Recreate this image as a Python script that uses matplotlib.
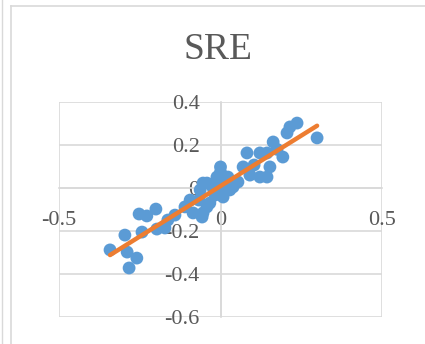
import numpy as np
import matplotlib
matplotlib.use("Agg")
import matplotlib.pyplot as plt
from matplotlib.lines import Line2D

# residuals: predicted vs observed
x_vals = [-0.342, -0.296, -0.289, -0.283, -0.259, -0.252, -0.228, -0.200, -0.243, -0.197,
          -0.172, -0.163, -0.141, -0.094, -0.085, -0.063, -0.057, -0.042, -0.054, -0.011,
          0.014, 0.000, 0.082, 0.144, 0.070, 0.122, -0.042, 0.000, 0.039, 0.008,
          -0.033, -0.054, 0.029, 0.237, 0.215, 0.206, 0.299, 0.163, 0.122, 0.193,
          0.175, 0.091, 0.144, 0.153, -0.017, 0.023, 0.054, 0.104, -0.067, -0.110,
          -0.023, 0.000]
y_vals = [-0.288, -0.219, -0.298, -0.372, -0.326, -0.121, -0.130, -0.098, -0.205, -0.191,
          -0.186, -0.149, -0.126, -0.056, -0.116, -0.009, -0.135, -0.088, 0.023, 0.051,
          -0.009, 0.098, 0.163, 0.163, 0.098, 0.051, 0.023, 0.023, 0.005, -0.042,
          -0.070, -0.116, -0.009, 0.302, 0.284, 0.256, 0.233, 0.214, 0.163, 0.144,
          0.180, 0.060, 0.051, 0.098, -0.033, 0.051, 0.028, 0.107, -0.056, -0.088,
          0.000, 0.074]

x_ticks = [-0.5, 0, 0.5]
y_ticks = [0.4, 0.2, 0, -0.2, -0.4, -0.6]

blue = "#5B9BD5"
orange = "#ED7D31"
grid_c = "#D9D9D9"
txt_c = "#595959"
serif = ["Liberation Serif", "DejaVu Serif"]

fig = plt.figure(figsize=(4.25, 3.44), dpi=100)
W, H = 425, 344

# chart frame
fig.add_artist(Line2D([11 / W, 11 / W], [0, 1 - 6 / H], color=grid_c, lw=1.2))
fig.add_artist(Line2D([11 / W, 1], [1 - 6 / H, 1 - 6 / H], color=grid_c, lw=1.2))
fig.add_artist(Line2D([2 / W, 2 / W], [0, 1], color=grid_c, lw=1.0))

ax = fig.add_axes([59 / W, 27 / H, 323 / W, 215 / H])
ax.set_xlim(-0.5, 0.5)
ax.set_ylim(-0.6, 0.4)
ax.set_xticks(x_ticks)
ax.set_yticks(y_ticks)
ax.set_xticklabels([f"{v:g}" for v in x_ticks])
ax.set_yticklabels([f"{v:g}" for v in y_ticks])
ax.grid(True, color=grid_c, lw=1.2)
ax.set_axisbelow(True)

for s in ["top", "right"]:
    ax.spines[s].set_visible(False)
for s in ["left", "bottom"]:
    ax.spines[s].set_position(("data", 0))
    ax.spines[s].set_color(grid_c)
    ax.spines[s].set_linewidth(1.2)

ax.tick_params(axis="x", length=0, pad=16.5, labelsize=16, labelcolor=txt_c)
ax.tick_params(axis="y", length=0, pad=15, labelsize=16, labelcolor=txt_c)
for lab in ax.get_xticklabels() + ax.get_yticklabels():
    lab.set_fontfamily(serif)

ax.scatter(x_vals, y_vals, s=85, color=blue, edgecolors="none", zorder=3, clip_on=False)

# linear trend line over the data range
k, b = np.polyfit(x_vals, y_vals, 1)
xs = np.array([min(x_vals), max(x_vals)])
ax.plot(xs, k * xs + b, color=orange, lw=3.2, solid_capstyle="round", zorder=4)

fig.text(218 / W, 1 - 50 / H, "SRE", ha="center", va="center", fontsize=27,
         color=txt_c, family=serif)

fig.savefig("out.png", dpi=100)
